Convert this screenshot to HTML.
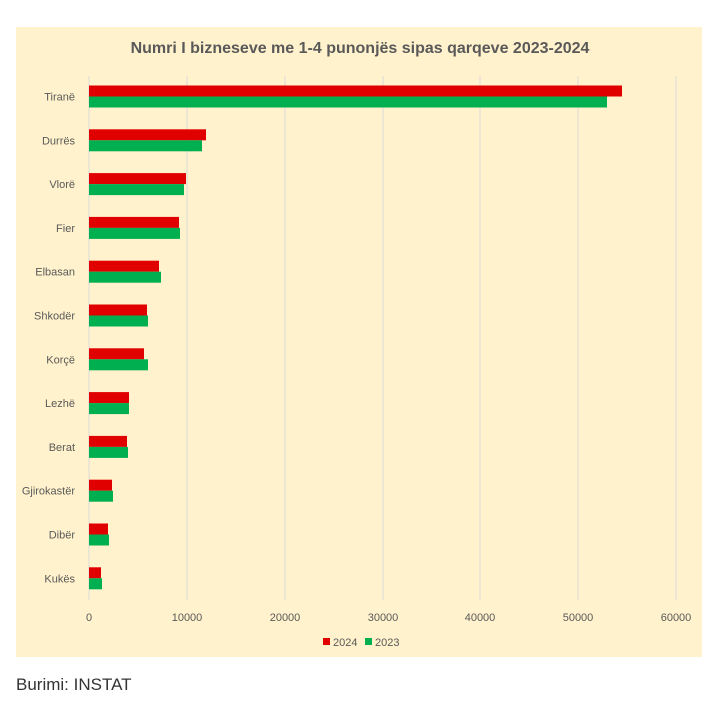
<!DOCTYPE html><html><head><meta charset="utf-8"><style>body{margin:0;background:#fff;width:721px;height:702px;overflow:hidden;font-family:"Liberation Sans",sans-serif}</style></head><body>
<svg width="721" height="702" xmlns="http://www.w3.org/2000/svg" style="position:absolute;left:0;top:0">
<rect x="16" y="27" width="686" height="630" fill="#fff2cc"/>
<text x="360" y="53" text-anchor="middle" font-size="16" font-weight="bold" fill="#595959">Numri I bizneseve me 1-4 punonjës sipas qarqeve 2023-2024</text>
<g stroke="#d9d9d9" stroke-width="1">
<line x1="89" y1="76" x2="89" y2="600"/><line x1="187" y1="76" x2="187" y2="600"/><line x1="285" y1="76" x2="285" y2="600"/><line x1="383" y1="76" x2="383" y2="600"/><line x1="480" y1="76" x2="480" y2="600"/><line x1="578" y1="76" x2="578" y2="600"/><line x1="676" y1="76" x2="676" y2="600"/>
</g>
<g font-size="11" fill="#595959" text-anchor="middle">
<text x="89" y="621">0</text><text x="187" y="621">10000</text><text x="285" y="621">20000</text><text x="383" y="621">30000</text><text x="480" y="621">40000</text><text x="578" y="621">50000</text><text x="676" y="621">60000</text>
</g>
<g font-size="11" fill="#595959" text-anchor="end" id="labels"></g>
<g id="bars"></g>
<rect x="323" y="638" width="7" height="7" fill="#e00000"/><text x="333" y="646" font-size="11" fill="#595959">2024</text>
<rect x="365" y="638" width="7" height="7" fill="#00b050"/><text x="375" y="646" font-size="11" fill="#595959">2023</text>
<text x="16" y="690" font-size="17" fill="#333">Burimi: INSTAT</text>
</svg>
<script>
var d=[["Tiranë",622,607],["Durrës",206,202],["Vlorë",186,184],["Fier",179,180],["Elbasan",159,161],["Shkodër",147,148],["Korçë",144,148],["Lezhë",129,129],["Berat",127,128],["Gjirokastër",112,113],["Dibër",108,109],["Kukës",101,102]];
var ns="http://www.w3.org/2000/svg",L=document.getElementById("labels"),B=document.getElementById("bars");
d.forEach(function(r,i){var c=96.5+i*43.8;
var t=document.createElementNS(ns,"text");t.setAttribute("x",75);t.setAttribute("y",c+4);t.textContent=r[0];L.appendChild(t);
[[r[1],c-11,"#e00000"],[r[2],c,"#00b050"]].forEach(function(b){var e=document.createElementNS(ns,"rect");e.setAttribute("x",89);e.setAttribute("y",b[1]);e.setAttribute("width",b[0]-89);e.setAttribute("height",11);e.setAttribute("fill",b[2]);B.appendChild(e);});});
</script>
</body></html>
